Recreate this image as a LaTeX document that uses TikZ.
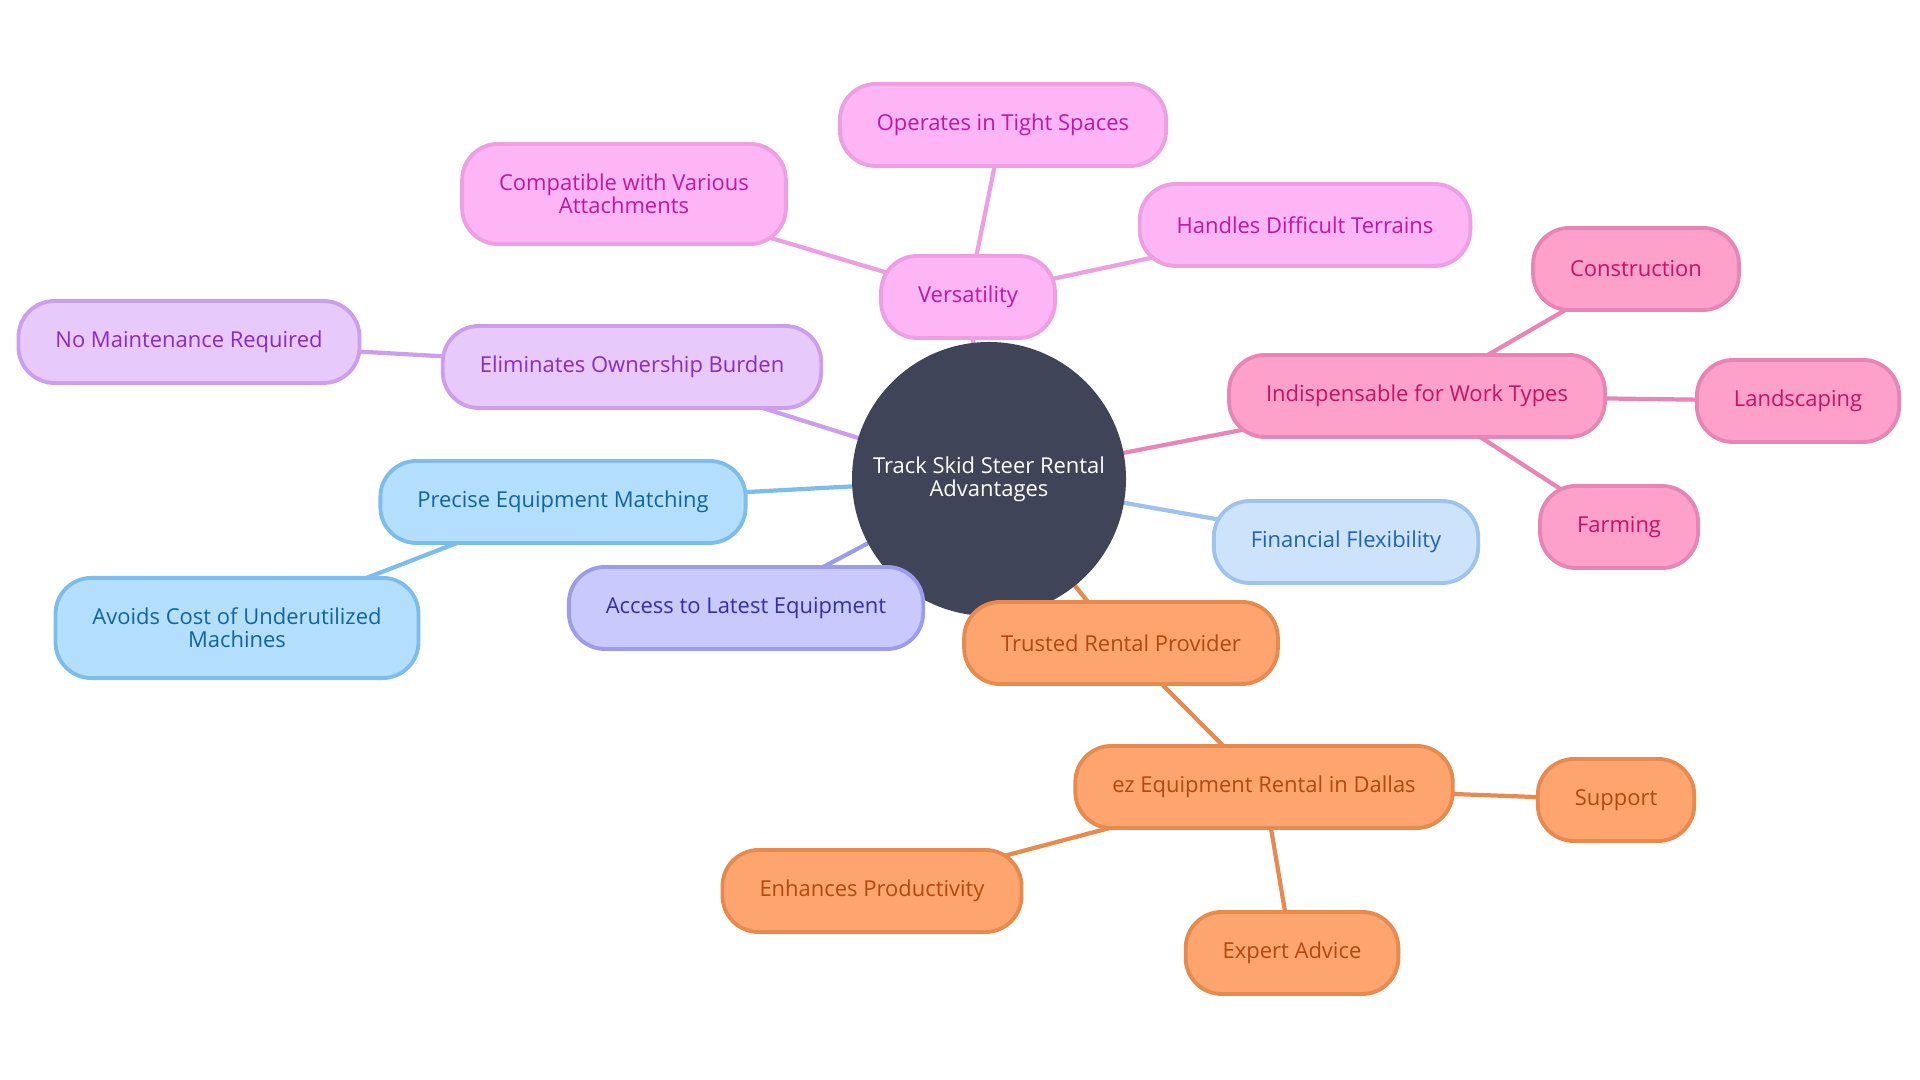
\documentclass[tikz,border=0pt]{standalone}
\usepackage{fontspec}
\setmainfont{Open Sans}
\usepackage{xcolor}
\usepackage{tikz}
\usetikzlibrary{backgrounds}

%% ── Palette ──────────────────────────────────────────────────────────────────
\definecolor{rootFill}{HTML}{404459}
\definecolor{versFill}{HTML}{FDB5F5}
\definecolor{versLine}{HTML}{EE9EE3}
\definecolor{versText}{HTML}{C0199E}
\definecolor{ownFill}{HTML}{E7C9FC}
\definecolor{ownLine}{HTML}{CD9EEE}
\definecolor{ownText}{HTML}{8A2BC6}
\definecolor{matchFill}{HTML}{B3DFFD}
\definecolor{matchLine}{HTML}{7DBDEB}
\definecolor{matchText}{HTML}{1064A3}
\definecolor{accFill}{HTML}{C9C9FD}
\definecolor{accLine}{HTML}{9C9CEE}
\definecolor{accText}{HTML}{3030B0}
\definecolor{provFill}{HTML}{FEA56F}
\definecolor{provLine}{HTML}{E8894E}
\definecolor{provText}{HTML}{B24A10}
\definecolor{workFill}{HTML}{FDA1CB}
\definecolor{workLine}{HTML}{E985B4}
\definecolor{workText}{HTML}{C81167}
\definecolor{finFill}{HTML}{CDE3FB}
\definecolor{finLine}{HTML}{9EC3EE}
\definecolor{finText}{HTML}{1E63B8}

\begin{document}
\begin{tikzpicture}[
  every node/.style={font=\fontsize{6.25pt}{6.6pt}\selectfont, align=center},
  box/.style={rectangle, rounded corners=0.36cm, line width=1.1pt,
              inner xsep=0.37cm, inner ysep=0.3cm, minimum height=0.82cm},
  root/.style={circle, fill=rootFill, text=white, minimum size=2.74cm, inner sep=0pt},
  vers/.style={box, fill=versFill, draw=versLine, text=versText},
  own/.style={box, fill=ownFill, draw=ownLine, text=ownText},
  match/.style={box, fill=matchFill, draw=matchLine, text=matchText},
  acc/.style={box, fill=accFill, draw=accLine, text=accText},
  prov/.style={box, fill=provFill, draw=provLine, text=provText},
  work/.style={box, fill=workFill, draw=workLine, text=workText},
  fin/.style={box, fill=finFill, draw=finLine, text=finText},
  link/.style={line width=1.2pt},
]

\useasboundingbox (0,0) rectangle (19.2,10.8);

%% ── Centre ───────────────────────────────────────────────────────────────────
\node[root] (root) at (9.89, 6.01) {Track Skid Steer Rental\\Advantages};

%% ── Versatility branch ───────────────────────────────────────────────────────
\node[vers] (vers)    at (9.68, 7.83)  {Versatility};
\node[vers] (tight)   at (10.03, 9.55) {Operates in Tight Spaces};
\node[vers] (attach)  at (6.24, 8.86)  {Compatible with Various\\Attachments};
\node[vers] (terrain) at (13.05, 8.55) {Handles Difficult Terrains};

%% ── Ownership branch ─────────────────────────────────────────────────────────
\node[own] (owner) at (6.32, 7.13) {Eliminates Ownership Burden};
\node[own] (maint) at (1.89, 7.38) {No Maintenance Required};

%% ── Matching branch ──────────────────────────────────────────────────────────
\node[match] (precise) at (5.63, 5.78) {Precise Equipment Matching};
\node[match] (avoids)  at (2.37, 4.52) {Avoids Cost of Underutilized\\Machines};

%% ── Latest equipment ─────────────────────────────────────────────────────────
\node[acc] (access) at (7.46, 4.72) {Access to Latest Equipment};

%% ── Provider branch ──────────────────────────────────────────────────────────
\node[prov] (trusted) at (11.21, 4.37) {Trusted Rental Provider};
\node[prov] (ezrent)  at (12.64, 2.93) {ez Equipment Rental in Dallas};
\node[prov] (support) at (16.16, 2.80) {Support};
\node[prov] (produce) at (8.72, 1.89)  {Enhances Productivity};
\node[prov] (advice)  at (12.92, 1.27) {Expert Advice};

%% ── Work types branch ────────────────────────────────────────────────────────
\node[work] (worktypes) at (14.17, 6.84) {Indispensable for Work Types};
\node[work] (construct) at (16.36, 8.11) {Construction};
\node[work] (landscape) at (17.98, 6.79) {Landscaping};
\node[work] (farming)   at (16.19, 5.53) {Farming};

%% ── Finance ──────────────────────────────────────────────────────────────────
\node[fin] (finance) at (13.46, 5.38) {Financial Flexibility};

%% ── Links (behind everything) ────────────────────────────────────────────────
\begin{scope}[on background layer]
  \draw[link, versLine] (root.center) -- (vers.center);
  \draw[link, versLine] (vers.center) -- (tight.center);
  \draw[link, versLine] (vers.center) -- (attach.center);
  \draw[link, versLine] (vers.center) -- (terrain.center);
  \draw[link, ownLine] (root.center) -- (owner.center);
  \draw[link, ownLine] (owner.center) -- (maint.center);
  \draw[link, matchLine] (root.center) -- (precise.center);
  \draw[link, matchLine] (precise.center) -- (avoids.center);
  \draw[link, accLine] (root.center) -- (access.center);
  \draw[link, provLine] (root.center) -- (trusted.center);
  \draw[link, provLine] (trusted.center) -- (ezrent.center);
  \draw[link, provLine] (ezrent.center) -- (support.center);
  \draw[link, provLine] (ezrent.center) -- (produce.center);
  \draw[link, provLine] (ezrent.center) -- (advice.center);
  \draw[link, workLine] (root.center) -- (worktypes.center);
  \draw[link, workLine] (worktypes.center) -- (construct.center);
  \draw[link, workLine] (worktypes.center) -- (landscape.center);
  \draw[link, workLine] (worktypes.center) -- (farming.center);
  \draw[link, finLine] (root.center) -- (finance.center);
\end{scope}

\end{tikzpicture}
\end{document}
